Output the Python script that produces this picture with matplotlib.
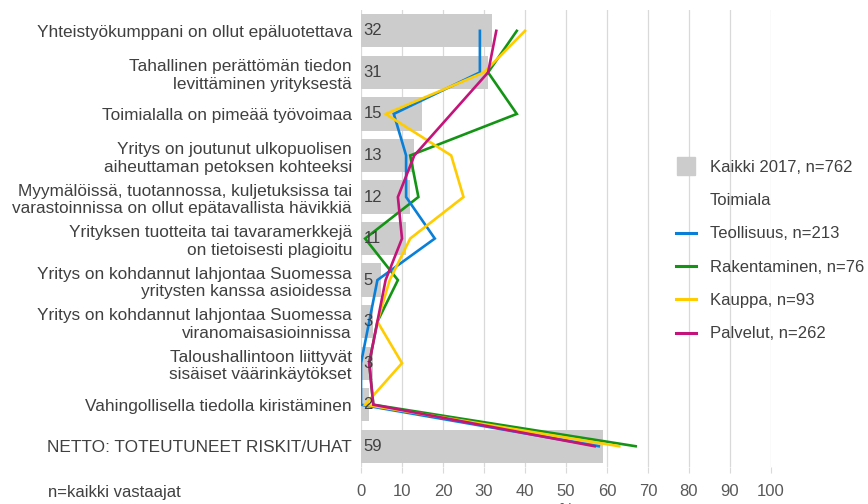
import matplotlib
matplotlib.use('Agg')
from matplotlib import pyplot as plt
from matplotlib.lines import Line2D

plt.rcParams['font.family'] = ['Liberation Sans', 'DejaVu Sans']

categories = [
    'Yhteistyökumppani on ollut epäluotettava',
    'Tahallinen perättömän tiedon\nlevittäminen yrityksestä',
    'Toimialalla on pimeää työvoimaa',
    'Yritys on joutunut ulkopuolisen\naiheuttaman petoksen kohteeksi',
    'Myymälöissä, tuotannossa, kuljetuksissa tai\nvarastoinnissa on ollut epätavallista hävikkiä',
    'Yrityksen tuotteita tai tavaramerkkejä\non tietoisesti plagioitu',
    'Yritys on kohdannut lahjontaa Suomessa\nyritysten kanssa asioidessa',
    'Yritys on kohdannut lahjontaa Suomessa\nviranomaisasioinnissa',
    'Taloushallintoon liittyvät\nsisäiset väärinkäytökset',
    'Vahingollisella tiedolla kiristäminen',
    'NETTO: TOTEUTUNEET RISKIT/UHAT',
]
kaikki = [32, 31, 15, 13, 12, 11, 5, 3, 3, 2, 59]
teollisuus = [29, 29, 8, 11, 11, 18, 4, 2, 0, 0, 58]
rakentaminen = [38, 31, 38, 12, 14, 1, 9, 4, 2, 3, 67]
kauppa = [40, 30, 6, 22, 25, 12, 7, 4, 10, 1, 63]
palvelut = [33, 31, 22, 13, 9, 10, 6, 4, 2, 3, 57]
xticks = list(range(0, 101, 10))

txt = '#404040'
fs = 12
series = [
    ('Teollisuus, n=213', teollisuus, '#0A7FD8', 3),
    ('Rakentaminen, n=76', rakentaminen, '#149414', 2),
    ('Kauppa, n=93', kauppa, '#FFCC00', 4),
    ('Palvelut, n=262', palvelut, '#C4137A', 5),
]

fig = plt.figure(figsize=(8.68, 5.04), dpi=100)
ax = fig.add_axes([0.4159, 0.0734, 0.8882 - 0.4159, 0.980 - 0.0734])

pos = list(range(len(categories)))
ax.barh(pos, kaikki, height=0.8, color='#CCCCCC', zorder=1)
for p, v in zip(pos, kaikki):
    ax.text(0.6, p, str(v), va='center', ha='left', fontsize=fs,
            color='#404040', zorder=6)

for name, vals, col, z in series:
    ax.plot(vals, pos, color=col, lw=1.9, zorder=z, solid_joinstyle='miter')

ax.set_xlim(0, 100)
ax.set_ylim(len(categories) - 0.5, -0.5)
ax.set_xticks(xticks)
ax.set_xticklabels([str(t) for t in xticks])
ax.set_yticks(pos)
ax.set_yticklabels(categories)
for lbl in ax.get_yticklabels():
    lbl.set_linespacing(1.22)
ax.tick_params(axis='y', length=0, pad=6.5, labelsize=12.4, labelcolor=txt)
ax.tick_params(axis='x', length=4, width=0.8, color='#D9D9D9', pad=8,
               labelsize=fs, labelcolor='#595959')
ax.grid(axis='x', color='#D9D9D9', lw=0.9, zorder=0)
ax.set_axisbelow(True)
for s in ax.spines.values():
    s.set_visible(False)

handles = [
    Line2D([], [], marker='s', markersize=13.5, color='#CCCCCC', linestyle='none'),
    Line2D([], [], color='none'),
] + [Line2D([], [], color=c, lw=2.2) for _, _, c, _ in series]
labels = ['Kaikki 2017, n=762', 'Toimiala'] + [n for n, _, _, _ in series]
leg = fig.legend(handles, labels, loc='upper left', bbox_to_anchor=(0.779, 0.683),
                 frameon=False, fontsize=fs, labelspacing=1.1, handlelength=1.2,
                 handletextpad=0.8, borderaxespad=0, borderpad=0)
for t in leg.get_texts():
    t.set_color(txt)

fig.text(48 / 868, 1 - 492 / 504, 'n=kaikki vastaajat', fontsize=fs,
         color=txt, va='center', ha='left')
fig.text(566 / 868, 0.002, '%', fontsize=fs, color='#595959', va='top', ha='center')

fig.savefig('out.png', dpi=100)
